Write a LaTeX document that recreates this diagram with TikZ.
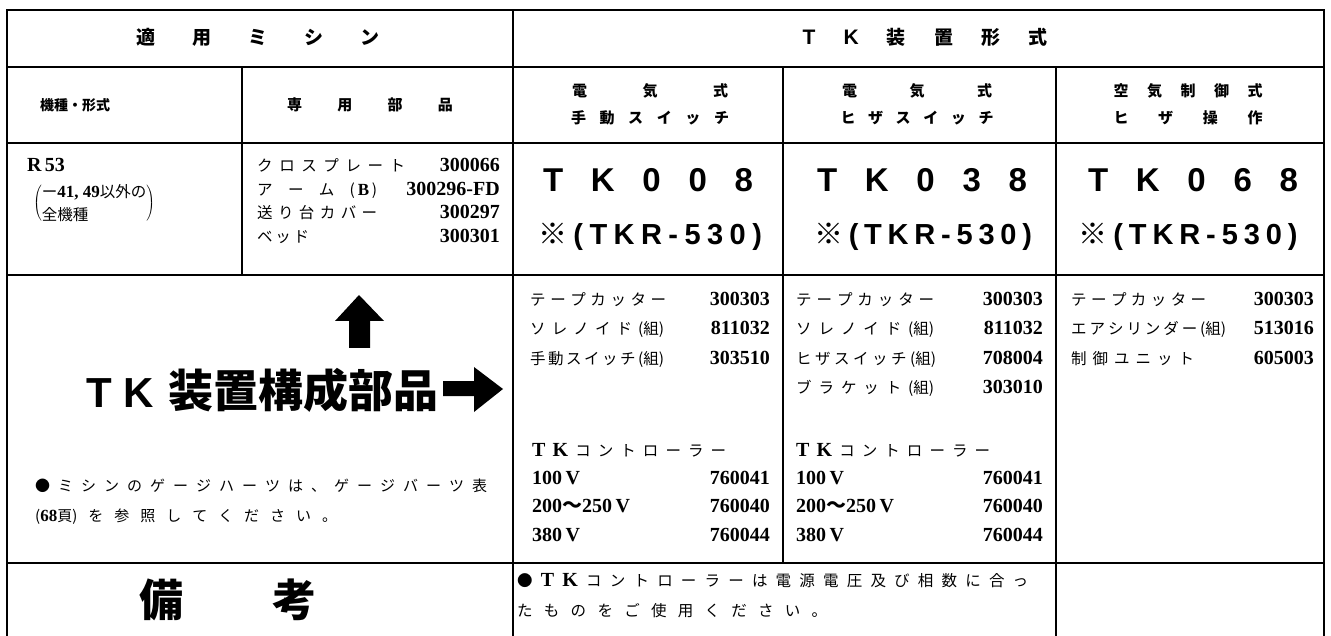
\documentclass[tikz,border=0pt]{standalone}
\usepackage{fontspec}
\setmainfont{Noto Sans CJK JP}
\newfontfamily\numf{Liberation Serif}
\newfontfamily\hdf{Liberation Sans}
\newcommand\nb[1]{{\fontsize{20}{22}\numf\bfseries #1}}
\newcommand\nbs[1]{{\fontsize{17}{20}\numf\bfseries #1}}
\makeatletter
\newcommand\spreadtxt[2]{\makebox[#1][s]{\expandafter\@tfor\expandafter\sp@ch\expandafter:\expandafter=#2\do{\sp@ch\hfill}\unskip}}
\makeatother
\tikzset{
  tline/.style={line width=1.3pt},
  tframe/.style={line width=2.8pt},
  hdA/.style={inner sep=0pt, font=\fontsize{19}{22}\selectfont\bfseries},
  hdB/.style={inner sep=0pt, font=\fontsize{15}{18}\selectfont\bfseries},
  part/.style={inner sep=0pt, anchor=base west, font=\fontsize{15.5}{23.5}\selectfont},
  pno/.style={inner sep=0pt, anchor=base east, font=\fontsize{20}{22}\numf\bfseries},
  volt/.style={pno, anchor=base west},
  model/.style={inner sep=0pt, font=\fontsize{33}{36}\hdf\bfseries},
  kind/.style={inner sep=0pt, font=\fontsize{29}{32}\hdf\bfseries},
  note/.style={inner sep=0pt, anchor=base west, font=\fontsize{15.5}{18}\selectfont},
  bighd/.style={inner sep=0pt, font=\fontsize{45}{48}\selectfont\bfseries},
}
\begin{document}
\begin{tikzpicture}[x=1pt,y=-1pt]
\useasboundingbox (0,0) rectangle (1331,636);
\draw[tframe] (7,636) -- (7,10) -- (1324,10) -- (1324,636);
\foreach \y in {67,143,275,563} \draw[tline] (7,\y) -- (1324,\y);
\draw[tline] (513,10) -- (513,636);
\draw[tline] (242,67) -- (242,275);
\draw[tline] (783,67) -- (783,563);
\draw[tline] (1056,67) -- (1056,636);

\node[hdA] (use) at (258,37) {\spreadtxt{243pt}{適用ミシン}};
\node[hdA] (form) at (925,37) {\spreadtxt{245pt}{{{\fontsize{21}{22}\hdf T}}{{\fontsize{21}{22}\hdf K}}装置形式}};
\node[hdB, font=\fontsize{14}{16}\selectfont\bfseries] (kind) at (75,105) {機種・形式};
\node[hdB] (own) at (370,105) {\spreadtxt{166pt}{専用部品}};
\node[hdB] (c3a) at (650,91) {\spreadtxt{156pt}{電気式}};
\node[hdB] (c3b) at (650,118) {\spreadtxt{158pt}{手動スイッチ}};
\node[hdB] (c4a) at (917,91) {\spreadtxt{150pt}{電気式}};
\node[hdB] (c4b) at (917,118) {\spreadtxt{153pt}{ヒザスイッチ}};
\node[hdB] (c5a) at (1188,91) {\spreadtxt{149pt}{空気制御式}};
\node[hdB] (c5b) at (1188,118) {\spreadtxt{149pt}{ヒザ操作}};

\node[volt] (r53) at (27,172) {R\,53};
\node[part, anchor=west, font=\fontsize{15.5}{23}\selectfont] (mach) at (33,203) {$\left(\vcenter{\hbox{{\rmfamily ー}\nbs{41, 49}以外の}\hbox{全機種}}\right)$};
\foreach \n/\w/\v [count=\i] in {クロスプレート/148/300066, アーム{({\nbs{\,B\,}})}/120/300296-FD, 送り台カバー/120/300297, ベッド/52/300301} {
  \node[part] (sa\i) at (257,{148.5+23.5*\i}) {\spreadtxt{\w pt}{\n}};
  \node[pno] (sb\i) at (500,{148.5+23.5*\i}) {\v};
}

\node[model] (tk8) at (648,180) {\spreadtxt{210pt}{TK008}};
\node[model] (tk38) at (922,180) {\spreadtxt{210pt}{TK038}};
\node[model] (tk68) at (1193,180) {\spreadtxt{210pt}{TK068}};
\node[kind] (tkr8) at (650,237) {\spreadtxt{224pt}{{{\rmfamily ※}}(TKR-530)}};
\node[kind] (tkr38) at (923,237) {\spreadtxt{218pt}{{{\rmfamily ※}}(TKR-530)}};
\node[kind] (tkr68) at (1188,237) {\spreadtxt{219pt}{{{\rmfamily ※}}(TKR-530)}};

\foreach \n/\w/\v [count=\i] in {テープカッター/136/300303, ソレノイド{(組)}/134/811032, 手動スイッチ{(組)}/134/303510} {
  \node[part] (pa\i) at (530,{277+29*\i}) {\spreadtxt{\w pt}{\n}};
  \node[pno] (pb\i) at (770,{277+29*\i}) {\v};
}
\foreach \n/\w/\v [count=\i] in {テープカッター/138/300303, ソレノイド{(組)}/138/811032, ヒザスイッチ{(組)}/140/708004, ブラケット{(組)}/138/303010} {
  \node[part] (qa\i) at (796,{277+29*\i}) {\spreadtxt{\w pt}{\n}};
  \node[pno] (qb\i) at (1043,{277+29*\i}) {\v};
}
\foreach \n/\w/\v [count=\i] in {テープカッター/135/300303, エアシリンダー{(組)}/155/513016, 制御ユニット/123/605003} {
  \node[part] (ra\i) at (1071,{277+29*\i}) {\spreadtxt{\w pt}{\n}};
  \node[pno] (rb\i) at (1314,{277+29*\i}) {\v};
}

\node[part] (ctl3) at (532,456) {\spreadtxt{194pt}{{\nb{T}}{\nb{K}}コントローラー}};
\node[part] (ctl4) at (796,456) {\spreadtxt{194pt}{{\nb{T}}{\nb{K}}コントローラー}};
\foreach \n/\v [count=\i] in {100\,V/760041, 200{\rmfamily ～}250\,V/760040, 380\,V/760044} {
  \node[volt] (va\i) at (532,{455.5+28.5*\i}) {\n};
  \node[pno] (vb\i) at (770,{455.5+28.5*\i}) {\v};
  \node[volt] (wa\i) at (796,{455.5+28.5*\i}) {\n};
  \node[pno] (wb\i) at (1043,{455.5+28.5*\i}) {\v};
}

\fill (359,295) -- (384,321) -- (370,321) -- (370,348) -- (349,348) -- (349,321) -- (335,321) -- cycle;
\node[bighd, anchor=west] (parts) at (86,390) {{\fontsize{42}{44}\hdf T}\hspace{12pt}{\fontsize{42}{44}\hdf K}\hspace{14pt}装置構成部品};
\fill (443,381) -- (474,381) -- (474,367) -- (503,389) -- (474,412) -- (474,396) -- (443,396) -- cycle;
\node[note, font=\fontsize{15}{18}\selectfont] (gl1) at (35,491) {\spreadtxt{452pt}{●ミシンのゲージハーツは、ゲージバーツ表}};
\node[note, font=\fontsize{15}{18}\selectfont] (gl2) at (35,521) {\spreadtxt{302pt}{{(\nbs{68}頁)}を参照してください。}};

\node[bighd, font=\fontsize{44}{48}\selectfont\bfseries] (biko) at (228,600) {\spreadtxt{177pt}{備考}};
\node[note] (bn1) at (517,586) {\spreadtxt{511pt}{●{\nb{T}}{\nb{K}}コントローラーは電源電圧及び相数に合っ}};
\node[note] (bn2) at (517,616) {\spreadtxt{310pt}{たものをご使用ください。}};
\end{tikzpicture}
\end{document}
